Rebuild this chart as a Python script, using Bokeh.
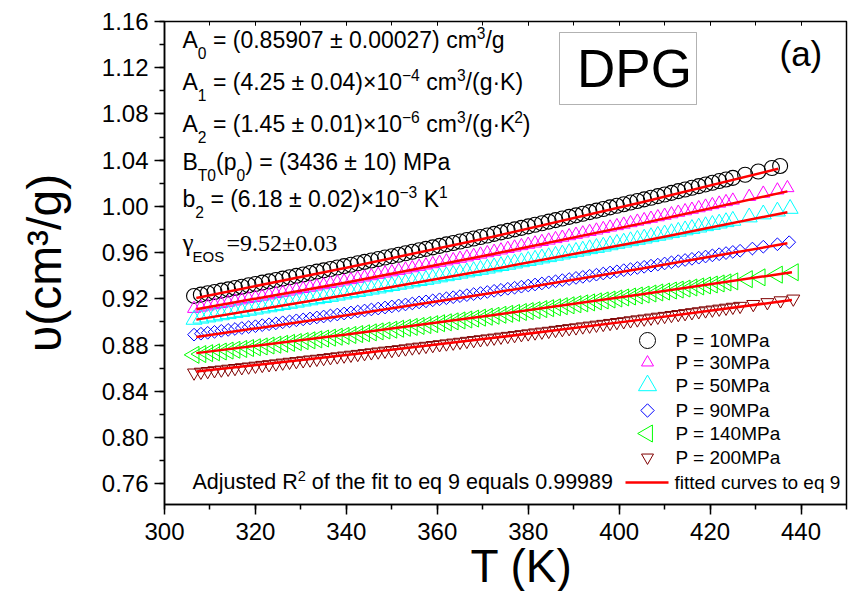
import numpy as np
from bokeh.plotting import figure
from bokeh.models import (Range1d, SingleIntervalTicker, LinearAxis, PrintfTickFormatter,
                          BoxAnnotation, CustomJSTickFormatter, Title)
from bokeh.core.properties import value
from bokeh.embed import file_html
from bokeh.resources import INLINE

# ---------------- data ----------------
T_common = [306.5, 308.0, 309.5, 311.0, 312.5, 314.0, 315.5, 317.0, 318.5, 320.0,
            321.5, 323.0, 324.5, 326.0, 327.5, 329.0, 330.5, 332.0, 333.5, 335.0,
            336.5, 338.0, 339.5, 341.0, 342.5, 344.0, 345.5, 347.0, 348.5, 350.0,
            351.5, 353.0, 354.5, 356.0, 357.5, 359.0, 360.5, 362.0, 363.5, 365.0,
            366.5, 368.0, 369.5, 371.0, 372.5, 374.0, 375.5, 377.0, 378.5, 380.0,
            381.5, 383.0, 384.5, 386.0, 387.5, 389.0, 390.5, 392.0, 393.5, 395.0,
            396.5, 398.0, 399.5, 401.0, 402.5, 404.0, 405.5, 407.0, 408.5, 410.0,
            411.5, 413.0, 414.5, 416.0, 417.5, 419.0, 420.5, 422.0, 423.5, 425.0]

T_10 = T_common + [427.7, 430.6, 433.6, 435.4]
v_10 = [0.9225, 0.9236, 0.9248, 0.9259, 0.9271, 0.9282, 0.9294, 0.9305, 0.9317, 0.9328,
        0.9340, 0.9351, 0.9363, 0.9375, 0.9387, 0.9399, 0.9411, 0.9423, 0.9435, 0.9446,
        0.9458, 0.9471, 0.9483, 0.9495, 0.9508, 0.9520, 0.9532, 0.9544, 0.9557, 0.9569,
        0.9581, 0.9594, 0.9607, 0.9620, 0.9632, 0.9645, 0.9658, 0.9671, 0.9683, 0.9696,
        0.9709, 0.9722, 0.9735, 0.9748, 0.9762, 0.9775, 0.9788, 0.9801, 0.9814, 0.9827,
        0.9841, 0.9854, 0.9868, 0.9881, 0.9895, 0.9909, 0.9922, 0.9936, 0.9950, 0.9963,
        0.9977, 0.9991, 1.0005, 1.0019, 1.0033, 1.0047, 1.0061, 1.0075, 1.0089, 1.0103,
        1.0117, 1.0132, 1.0146, 1.0161, 1.0175, 1.0190, 1.0204, 1.0219, 1.0233, 1.0247,
        1.0274, 1.0302, 1.0332, 1.0350]

T_30 = T_common + [428.6, 431.7, 434.8, 437.0]
v_30 = [0.9115, 0.9126, 0.9136, 0.9147, 0.9157, 0.9168, 0.9179, 0.9189, 0.9200, 0.9210,
        0.9221, 0.9232, 0.9243, 0.9254, 0.9265, 0.9276, 0.9287, 0.9298, 0.9309, 0.9320,
        0.9331, 0.9342, 0.9353, 0.9364, 0.9376, 0.9387, 0.9398, 0.9410, 0.9421, 0.9432,
        0.9444, 0.9455, 0.9467, 0.9479, 0.9491, 0.9502, 0.9514, 0.9526, 0.9537, 0.9549,
        0.9561, 0.9573, 0.9585, 0.9597, 0.9609, 0.9621, 0.9634, 0.9646, 0.9658, 0.9670,
        0.9681, 0.9694, 0.9706, 0.9719, 0.9731, 0.9744, 0.9756, 0.9768, 0.9781, 0.9793,
        0.9806, 0.9819, 0.9831, 0.9844, 0.9857, 0.9870, 0.9883, 0.9895, 0.9908, 0.9921,
        0.9934, 0.9947, 0.9960, 0.9973, 0.9986, 1.0000, 1.0013, 1.0026, 1.0039, 1.0052,
        1.0084, 1.0112, 1.0140, 1.0160]

T_50 = T_common + [428.6, 431.7, 434.8, 437.6]
v_50 = [0.9020, 0.9030, 0.9040, 0.9049, 0.9059, 0.9069, 0.9079, 0.9088, 0.9098, 0.9108,
        0.9118, 0.9128, 0.9138, 0.9148, 0.9158, 0.9168, 0.9178, 0.9188, 0.9198, 0.9208,
        0.9218, 0.9229, 0.9239, 0.9250, 0.9260, 0.9271, 0.9281, 0.9291, 0.9302, 0.9312,
        0.9323, 0.9333, 0.9344, 0.9355, 0.9365, 0.9376, 0.9387, 0.9397, 0.9408, 0.9419,
        0.9430, 0.9441, 0.9452, 0.9463, 0.9474, 0.9485, 0.9496, 0.9507, 0.9518, 0.9529,
        0.9540, 0.9551, 0.9562, 0.9574, 0.9585, 0.9597, 0.9608, 0.9619, 0.9631, 0.9642,
        0.9653, 0.9665, 0.9677, 0.9688, 0.9700, 0.9712, 0.9723, 0.9735, 0.9747, 0.9758,
        0.9770, 0.9782, 0.9794, 0.9806, 0.9818, 0.9830, 0.9841, 0.9853, 0.9865, 0.9877,
        0.9906, 0.9932, 0.9957, 0.9980]

T_90 = T_common + [426.6, 429.3, 431.7, 434.8, 437.4]
v_90 = [0.8890, 0.8898, 0.8906, 0.8914, 0.8923, 0.8931, 0.8939, 0.8947, 0.8955, 0.8963,
        0.8972, 0.8980, 0.8988, 0.8997, 0.9005, 0.9014, 0.9022, 0.9030, 0.9039, 0.9047,
        0.9056, 0.9064, 0.9073, 0.9082, 0.9090, 0.9099, 0.9108, 0.9116, 0.9125, 0.9134,
        0.9143, 0.9151, 0.9160, 0.9169, 0.9178, 0.9187, 0.9196, 0.9205, 0.9214, 0.9223,
        0.9232, 0.9241, 0.9250, 0.9259, 0.9269, 0.9278, 0.9287, 0.9296, 0.9305, 0.9315,
        0.9324, 0.9333, 0.9343, 0.9352, 0.9362, 0.9371, 0.9381, 0.9390, 0.9400, 0.9409,
        0.9419, 0.9428, 0.9438, 0.9448, 0.9457, 0.9467, 0.9477, 0.9487, 0.9496, 0.9506,
        0.9516, 0.9526, 0.9536, 0.9546, 0.9556, 0.9566, 0.9576, 0.9586, 0.9596, 0.9606,
        0.9616, 0.9635, 0.9651, 0.9672, 0.9690]

T_140 = T_common + [428.2, 431.0, 434.8, 438.3]
v_140 = [0.8715, 0.8722, 0.8730, 0.8737, 0.8744, 0.8752, 0.8759, 0.8766, 0.8774, 0.8781,
         0.8788, 0.8796, 0.8803, 0.8811, 0.8819, 0.8826, 0.8834, 0.8841, 0.8849, 0.8856,
         0.8864, 0.8872, 0.8879, 0.8887, 0.8895, 0.8902, 0.8910, 0.8918, 0.8926, 0.8933,
         0.8941, 0.8949, 0.8957, 0.8965, 0.8973, 0.8981, 0.8989, 0.8997, 0.9005, 0.9013,
         0.9021, 0.9029, 0.9037, 0.9045, 0.9053, 0.9062, 0.9070, 0.9078, 0.9086, 0.9094,
         0.9102, 0.9111, 0.9119, 0.9127, 0.9136, 0.9144, 0.9153, 0.9161, 0.9169, 0.9178,
         0.9186, 0.9194, 0.9203, 0.9212, 0.9220, 0.9229, 0.9237, 0.9246, 0.9255, 0.9263,
         0.9272, 0.9280, 0.9289, 0.9298, 0.9307, 0.9316, 0.9324, 0.9333, 0.9342, 0.9351,
         0.9370, 0.9386, 0.9409, 0.9430]

T_200 = T_common + [426.6, 429.5, 432.6, 435.5, 438.3]
v_200 = [0.8560, 0.8567, 0.8573, 0.8580, 0.8586, 0.8593, 0.8599, 0.8606, 0.8612, 0.8619,
         0.8626, 0.8632, 0.8639, 0.8646, 0.8653, 0.8659, 0.8666, 0.8673, 0.8679, 0.8686,
         0.8693, 0.8700, 0.8707, 0.8714, 0.8721, 0.8728, 0.8735, 0.8742, 0.8749, 0.8755,
         0.8762, 0.8769, 0.8777, 0.8784, 0.8791, 0.8798, 0.8805, 0.8812, 0.8819, 0.8826,
         0.8834, 0.8841, 0.8848, 0.8855, 0.8862, 0.8870, 0.8877, 0.8884, 0.8892, 0.8899,
         0.8907, 0.8914, 0.8921, 0.8929, 0.8936, 0.8944, 0.8951, 0.8959, 0.8966, 0.8974,
         0.8981, 0.8989, 0.8997, 0.9004, 0.9012, 0.9020, 0.9027, 0.9035, 0.9043, 0.9050,
         0.9058, 0.9066, 0.9074, 0.9082, 0.9090, 0.9098, 0.9105, 0.9113, 0.9121, 0.9129,
         0.9137, 0.9153, 0.9169, 0.9185, 0.9200]

# fitted curves (eq 9), read at a few temperatures
fitT_10 = [307, 340, 372, 405, 435]
fitv_10 = [0.9207, 0.9469, 0.9735, 1.0035, 1.0326]
fitT_30 = [307, 340, 372, 405, 437]
fitv_30 = [0.9110, 0.9342, 0.9585, 0.9853, 1.0130]
fitT_50 = [307, 340, 372, 405, 437]
fitv_50 = [0.9020, 0.9233, 0.9455, 0.9699, 0.9950]
fitT_90 = [307, 340, 372, 405, 437]
fitv_90 = [0.8870, 0.9057, 0.9250, 0.9462, 0.9680]
fitT_140 = [307, 340, 372, 405, 438]
fitv_140 = [0.8730, 0.8891, 0.9057, 0.9239, 0.9430]
fitT_200 = [307, 340, 372, 405, 438]
fitv_200 = [0.8570, 0.8713, 0.8860, 0.9020, 0.9190]

legend_labels = ["P = 10MPa", "P = 30MPa", "P = 50MPa", "P = 90MPa", "P = 140MPa", "P = 200MPa"]
x_ticks_interval = 20
y_ticks_interval = 0.04

# ---------------- figure ----------------
SANS = "Liberation Sans"
SERIF = "Liberation Serif"
X0, X1, Y0, Y1 = 300, 450, 0.742, 1.16
FL, FR, FT, FB = 164, 846, 21, 504   # frame in pixels
BASE_FIX = 0.36                      # svg baseline correction (em)


def X(px):
    return X0 + (px - FL) * (X1 - X0) / (FR - FL)


def Y(py):
    return Y1 - (py - FT) * (Y1 - Y0) / (FB - FT)


p = figure(width=855, height=591, x_range=Range1d(X0, X1), y_range=Range1d(Y0, Y1),
           output_backend="svg", toolbar_location=None,
           min_border_left=FL, min_border_right=855 - FR, min_border_top=FT, min_border_bottom=591 - FB)
p.grid.visible = False
p.outline_line_color = "black"
p.outline_line_width = 1.5
p.background_fill_color = "white"
p.border_fill_color = "white"

p.xaxis.ticker = SingleIntervalTicker(interval=x_ticks_interval, num_minor_ticks=2)
p.yaxis.ticker = SingleIntervalTicker(interval=y_ticks_interval, num_minor_ticks=2)
p.yaxis.formatter = PrintfTickFormatter(format="%.2f")
for ax in (p.xaxis[0], p.yaxis[0]):
    ax.axis_line_width = 1.5
    ax.axis_line_color = "black"
    ax.major_tick_line_width = 1.5
    ax.minor_tick_line_width = 1.5
    ax.major_tick_line_color = "black"
    ax.minor_tick_line_color = "black"
    ax.major_tick_in = 0
    ax.major_tick_out = 10
    ax.minor_tick_in = 0
    ax.minor_tick_out = 5
    ax.major_label_text_font = SANS
    ax.major_label_text_font_size = "24px"
    ax.major_label_text_color = "black"
    ax.axis_label_text_font = SANS
    ax.axis_label_text_font_style = "normal"
    ax.axis_label_text_color = "black"
p.xaxis.major_label_standoff = 8
p.yaxis.major_label_standoff = 6

p.yaxis.axis_label = "υ(cm³/g)"
p.yaxis.axis_label_text_font_size = "48px"
p.yaxis.axis_label_standoff = 28

# x-axis title as a below-panel title, offset to sit right of centre as in the original
p.add_layout(Title(text="T (K)", align="left", offset=306, standoff=-10,
                   text_font=SANS, text_font_size="46px", text_font_style="normal",
                   text_color="black"), "below")

top = LinearAxis(ticker=SingleIntervalTicker(interval=x_ticks_interval, num_minor_ticks=2),
                 formatter=CustomJSTickFormatter(code="return '';"),
                 major_tick_in=4, major_tick_out=0, minor_tick_in=4, minor_tick_out=0,
                 axis_line_color=None, major_label_standoff=0,
                 major_tick_line_color="black", minor_tick_line_color="black")
p.add_layout(top, "above")

# ---------------- data marks ----------------
p.scatter(T_10, v_10, marker="circle", size=15, fill_color=None, line_color="black", line_width=1.1)
p.scatter(T_30, v_30, marker="triangle", size=13, fill_color=None, line_color="#FF00FF", line_width=1)
p.scatter(T_50, v_50, marker="triangle", size=16, fill_color=None, line_color="#00FFFF", line_width=1)
p.scatter(T_90, v_90, marker="square", angle=np.pi / 4, size=9, fill_color=None, line_color="#0000FF", line_width=1)
p.scatter(T_140, v_140, marker="triangle", angle=np.pi / 2, size=17, fill_color=None, line_color="#00FF00", line_width=1)
p.scatter(T_200, v_200, marker="inverted_triangle", size=13, fill_color=None, line_color="#800000", line_width=1)

for ft, fv in [(fitT_10, fitv_10), (fitT_30, fitv_30), (fitT_50, fitv_50),
               (fitT_90, fitv_90), (fitT_140, fitv_140), (fitT_200, fitv_200)]:
    p.line(ft, fv, line_color="#FF0000", line_width=2.5)

# ---------------- text helpers ----------------
W = {' ': 278, '(': 333, ')': 333, '.': 278, '=': 584, '±': 549, '×': 584, '/': 278, '·': 278,
     '-': 333, '−': 584, 'A': 667, 'B': 667, 'E': 667, 'K': 667, 'M': 833, 'O': 778, 'P': 667,
     'S': 667, 'T': 611, 'a': 556, 'b': 556, 'c': 500, 'g': 556, 'm': 833, 'p': 556,
     'd': 556, 'e': 556, 'f': 278, 'h': 556, 'i': 222, 'j': 222, 'l': 222, 'o': 556, 'q': 556,
     'r': 333, 's': 500, 't': 278, 'u': 556, 'v': 500, 'R': 722}


def wid(s, fs):
    return sum(W.get(c, 556) for c in s) * fs / 1000.0


def put(txt, px, py, fs, font=SANS, xoff=0.0, align="left"):
    # py is the wanted baseline in pixels
    p.text(x=[X(px)], y=[Y(py - BASE_FIX * fs)], text=[txt], x_offset=xoff,
           text_font=value(font), text_font_size=value(f"{fs:.1f}px"),
           text_baseline="alphabetic", text_align=align, text_color="black")


def rich(segs, px, py, size, font=SANS):
    off = 0.0
    for txt, kind in segs:
        if kind == "n":
            fs, dy = size, 0.0
        elif kind == "sub":
            fs, dy = size * 0.68, size * 0.45
        else:
            fs, dy = size * 0.68, -size * 0.42
        lead = len(txt) - len(txt.lstrip(" "))
        off += wid(" " * lead, fs)
        core = txt.strip(" ")
        put(core, px, py + dy, fs, font, xoff=off)
        off += wid(core, fs) + wid(" " * (len(txt.lstrip(" ")) - len(core)), fs)


FS = 23
LX = 182
rich([("A", "n"), ("0", "sub"), (" = (0.85907 ± 0.00027) cm", "n"), ("3", "sup"), ("/g", "n")], LX, 48, FS)
rich([("A", "n"), ("1", "sub"), (" = (4.25 ± 0.04)×10", "n"), ("−4", "sup"), (" cm", "n"), ("3", "sup"),
      ("/(g·K)", "n")], LX, 90, FS)
rich([("A", "n"), ("2", "sub"), (" = (1.45 ± 0.01)×10", "n"), ("−6", "sup"), (" cm", "n"), ("3", "sup"),
      ("/(g·K", "n"), ("2", "sup"), (")", "n")], LX, 132, FS)
rich([("B", "n"), ("T0", "sub"), ("(p", "n"), ("0", "sub"), (") = (3436 ± 10) MPa", "n")], LX, 170, FS)
rich([("b", "n"), ("2", "sub"), (" = (6.18 ± 0.02)×10", "n"), ("−3", "sup"), (" K", "n"), ("1", "sup")],
     LX, 207, FS)

# gamma line (serif)
put("γ", LX, 251, 25, SERIF)
put("EOS", LX, 261, 15, SANS, xoff=10)
put("=9.52±0.03", LX, 251, 24, SERIF, xoff=44)

# DPG box and panel letter
p.add_layout(BoxAnnotation(left=X(559), right=X(696), top=Y(32), bottom=Y(104),
                           fill_color=None, line_color="black", line_width=1))
put("DPG", 634, 87.5, 53, align="center")
put("(a)", 779, 66, 35)

# adjusted R^2 note
rich([("Adjusted R", "n"), ("2", "sup"), (" of the fit to eq 9 equals 0.99989", "n")], 192, 489.5, 21.5)

# ---------------- legend ----------------
rows = [340, 362, 385, 410, 433, 457]
mk = [dict(marker="circle", size=16, line_color="black"),
      dict(marker="triangle", size=12, line_color="#FF00FF"),
      dict(marker="triangle", size=18, line_color="#00FFFF"),
      dict(marker="square", angle=np.pi / 4, size=9.5, line_color="#0000FF"),
      dict(marker="triangle", angle=np.pi / 2, size=17, line_color="#00FF00"),
      dict(marker="inverted_triangle", size=12, line_color="#800000")]
for ry, m, lab in zip(rows, mk, legend_labels):
    p.scatter([X(647)], [Y(ry)], fill_color=None, line_width=1, **m)
    put(lab, 675, ry + 6.8, 19)
p.line([X(625), X(668)], [Y(482), Y(482)], line_color="#FF0000", line_width=2.5)
put("fitted curves to eq 9", 674, 488.8, 19)

open("out.html", "w").write(file_html(p, INLINE))
